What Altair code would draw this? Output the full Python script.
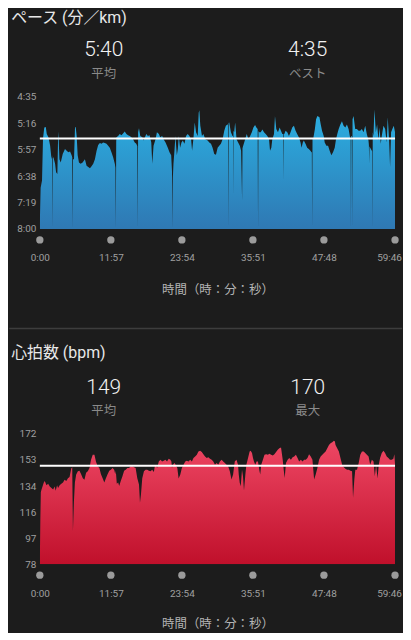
import altair as alt
import pandas as pd

# ---------------- data ----------------
x_ticks = [0, 717, 1434, 2151, 2868, 3586]          # seconds: 0:00 ... 59:46
pace_ticks = [275, 316, 357, 398, 439, 480]         # sec/km: 4:35 ... 8:00
hr_ticks = [78, 96.8, 115.6, 134.4, 153.2, 172]     # bpm

pace_avg = 340   # 5:40
hr_avg = 149

pace_title = "ペース (分／km)"
hr_title = "心拍数 (bpm)"
x_title = "時間（時：分：秒）"
pace_stats = ["5:40", "4:35"]
pace_stat_labels = ["平均", "ベスト"]
hr_stats = ["149", "170"]
hr_stat_labels = ["平均", "最大"]

# (elapsed seconds, pace seconds per km)
pace_samples = [
    (0, 470), (8, 416), (22, 405), (32, 340), (45, 323), (60, 322), (70, 333), (87, 338), (104, 351), (118, 372),
    (124, 366), (127, 480), (131, 370), (137, 369), (154, 379), (164, 392), (177, 395), (184, 340), (187, 329), (190, 340),
    (198, 372), (211, 377), (231, 364), (254, 356), (271, 359), (288, 361), (305, 360), (321, 366), (327, 369), (331, 480),
    (335, 372), (345, 372), (355, 323), (362, 322), (372, 336), (382, 366), (395, 377), (412, 379), (432, 377), (455, 372),
    (472, 382), (489, 384), (506, 386), (522, 383), (539, 379), (556, 372), (573, 359), (589, 350), (606, 347), (623, 348),
    (639, 346), (656, 347), (673, 348), (690, 351), (706, 354), (723, 361), (740, 369), (757, 379), (763, 385), (767, 480),
    (771, 345), (773, 338), (790, 336), (807, 333), (824, 335), (840, 332), (857, 329), (874, 333), (891, 335), (907, 336),
    (924, 338), (941, 341), (958, 346), (974, 348), (984, 352), (988, 480), (992, 330), (1001, 324), (1014, 336), (1035, 338),
    (1048, 343), (1061, 338), (1075, 333), (1091, 336), (1108, 335), (1125, 346), (1135, 379), (1148, 351), (1168, 341), (1182, 330),
    (1202, 333), (1215, 338), (1235, 336), (1249, 341), (1269, 346), (1292, 354), (1309, 361), (1326, 366), (1334, 390), (1336, 413),
    (1339, 480), (1343, 400), (1349, 379), (1359, 359), (1369, 336), (1383, 366), (1393, 356), (1403, 336), (1416, 354), (1430, 346),
    (1443, 343), (1460, 348), (1476, 336), (1493, 333), (1510, 336), (1527, 341), (1537, 359), (1550, 341), (1564, 315), (1577, 330),
    (1594, 336), (1604, 300), (1610, 296), (1620, 320), (1637, 336), (1651, 333), (1671, 341), (1694, 343), (1711, 346), (1728, 348),
    (1744, 354), (1761, 364), (1778, 365),
    (1795, 354), (1811, 351), (1828, 348), (1845, 341), (1862, 328), (1878, 320), (1895, 318), (1899, 318), (1902, 480), (1906, 316),
    (1912, 315), (1929, 330), (1945, 336), (1950, 336), (1952, 426), (1955, 328), (1962, 330), (1972, 315), (1986, 341), (2002, 346),
    (2019, 351), (2032, 359), (2042, 436), (2046, 355), (2053, 351), (2073, 341), (2089, 333), (2106, 341), (2123, 336), (2140, 330),
    (2156, 323), (2173, 319), (2186, 323), (2199, 325), (2203, 480), (2207, 328), (2213, 330), (2230, 330), (2247, 326), (2263, 330),
    (2280, 333), (2297, 336), (2314, 341), (2324, 359), (2337, 354), (2347, 341), (2364, 333), (2374, 305), (2387, 325), (2404, 330),
    (2421, 323), (2434, 328), (2448, 333), (2455, 333), (2458, 405), (2461, 333), (2468, 333), (2481, 328), (2498, 330), (2515, 336),
    (2531, 330), (2548, 323), (2565, 320), (2582, 328), (2598, 333), (2615, 338), (2632, 346), (2642, 354), (2655, 346), (2665, 343),
    (2682, 348), (2699, 354), (2715, 356), (2732, 359), (2742, 361), (2746, 361), (2749, 480), (2753, 340), (2759, 341), (2776, 326),
    (2789, 310), (2802, 305), (2823, 307), (2836, 318), (2849, 328), (2866, 336), (2876, 346), (2893, 351), (2910, 351), (2926, 359),
    (2943, 366), (2960, 361), (2977, 354), (2990, 341), (3003, 333), (3017, 325), (3034, 318), (3050, 313), (3067, 320), (3084, 323),
    (3100, 318), (3117, 325), (3134, 340), (3138, 340), (3141, 480), (3144, 336), (3151, 336), (3154, 480), (3157, 310), (3167, 305),
    (3184, 325), (3201, 325), (3218, 328), (3234, 328), (3251, 325), (3268, 330), (3285, 320), (3301, 333), (3318, 343), (3322, 350),
    (3325, 379), (3328, 352), (3335, 354), (3352, 359), (3355, 360), (3358, 480), (3361, 330), (3368, 336), (3378, 295), (3392, 330),
    (3405, 318), (3419, 343), (3429, 323), (3442, 348), (3452, 336), (3469, 320), (3486, 325), (3502, 346), (3512, 307), (3526, 341),
    (3536, 384), (3546, 330), (3559, 325), (3573, 320), (3586, 330),
]

# (elapsed seconds, heart rate bpm)
hr_samples = [
    (0, 80), (5, 110), (10, 130), (17, 132), (27, 134), (40, 137), (50, 138), (67, 135), (84, 136), (100, 134),
    (117, 133), (134, 132), (150, 134), (160, 131), (174, 135), (184, 133), (200, 135), (217, 136), (234, 137), (250, 139),
    (267, 138), (284, 140), (300, 141), (317, 147), (327, 148), (334, 102), (344, 123), (354, 137), (367, 142.7), (384, 145),
    (400, 145.5), (417, 143), (434, 140), (450, 139), (467, 144), (484, 145), (501, 147.4), (517, 153.4), (534, 157), (551, 157),
    (567, 152), (584, 148.6), (601, 147.4), (617, 143), (634, 140), (651, 137), (667, 140), (684, 143), (701, 145.5), (717, 146.2),
    (734, 147.4), (751, 146.2), (761, 143), (767, 145.5), (777, 136), (791, 137), (801, 134.5), (817, 138), (834, 141.5), (851, 145.5),
    (867, 146.2), (884, 147.4), (901, 147.4), (917, 148.6), (934, 148.6), (951, 147.9), (967, 147.4), (984, 140), (1001, 135.5), (1011, 122.4),
    (1021, 128.3), (1034, 140), (1051, 145), (1068, 146.2), (1084, 146.2), (1101, 145.5), (1118, 145), (1134, 146.2), (1151, 144.6), (1161, 148.6),
    (1174, 149.3), (1184, 147.4), (1201, 152.2), (1218, 153.4), (1234, 152.2), (1251, 152.7), (1268, 153.4), (1284, 152.2), (1301, 154.1), (1318, 153.4),
    (1328, 152.2), (1334, 147.4), (1344, 149.8), (1361, 151), (1374, 149.3), (1388, 147.4), (1401, 139.8), (1418, 142.7), (1434, 147.4), (1451, 149.8),
    (1468, 152.2), (1484, 152.7), (1501, 152.2), (1518, 153.4), (1535, 152.2), (1551, 154.6), (1568, 155.8), (1585, 157), (1601, 159.4), (1618, 159.8),
    (1635, 158.9), (1651, 157.4), (1668, 155.8), (1685, 154.6), (1701, 155.1), (1718, 154.1), (1735, 153.4), (1751, 152.2), (1768, 149.8),
    (1785, 151), (1801, 149.8), (1818, 152.2), (1835, 153.4), (1851, 152.2), (1868, 151), (1885, 149.8), (1901, 148.6), (1918, 145), (1935, 139.1),
    (1951, 142.7), (1968, 152.2), (1985, 153.4), (2001, 149.8), (2008, 143), (2018, 136.7), (2028, 134.3), (2041, 146.2), (2051, 141.5), (2061, 131.2),
    (2075, 142.7), (2085, 149.8), (2102, 154.6), (2118, 159.4), (2128, 159.8), (2142, 158.2), (2152, 154.6), (2162, 152.2), (2175, 149.8), (2188, 152.2),
    (2202, 152.2), (2218, 145), (2225, 142.7), (2235, 149.8), (2252, 153.4), (2268, 157), (2285, 157.4), (2302, 157), (2318, 157.7), (2335, 157),
    (2352, 156.5), (2368, 157.4), (2385, 158.9), (2402, 160.5), (2418, 161.7), (2435, 162.2), (2452, 153.4), (2462, 146.2), (2472, 140.3), (2485, 151),
    (2502, 153.4), (2518, 154.6), (2535, 153.4), (2552, 155.1), (2568, 155.8), (2585, 157), (2602, 154.6), (2618, 152.2), (2635, 153.4), (2652, 152.2),
    (2668, 153.4), (2685, 153.4), (2702, 154.6), (2718, 157.4), (2735, 155.8), (2752, 153.4), (2762, 145), (2769, 139.1), (2785, 142.7), (2802, 147.4),
    (2819, 153.4), (2835, 155.8), (2852, 157), (2869, 158.2), (2885, 159.4), (2902, 161.7), (2919, 164.1), (2935, 165.3), (2952, 166), (2969, 167),
    (2979, 166.5), (2985, 164.1), (3002, 161.7), (3019, 159.4), (3035, 154.6), (3052, 149.8), (3069, 147.9), (3085, 146.9), (3102, 146.2), (3119, 146.2),
    (3135, 145.5), (3152, 145), (3162, 126), (3175, 139.1), (3185, 146.2), (3202, 146.2), (3219, 151), (3235, 157), (3252, 159.4), (3269, 159.4),
    (3285, 158.2), (3302, 157), (3319, 155.8), (3335, 149.8), (3352, 153.4), (3369, 152.2), (3382, 141.5), (3395, 149.8), (3409, 139.8), (3422, 149.8),
    (3435, 154.6), (3452, 158.2), (3469, 159.8), (3485, 158.2), (3502, 155.8), (3519, 154.6), (3535, 153.4), (3552, 153.4), (3569, 154.1), (3579, 157.4),
    (3586, 150),
]

# ---------------- styling ----------------
BG = "#1c1c1c"
FONT = "Roboto, 'Noto Sans CJK JP', sans-serif"
W = 357
LEFT = 30.8          # plot-area left edge in chart coordinates
TOTAL_W = 395
MMSS = "floor(datum.value / 60) + ':' + (datum.value % 60 < 10 ? '0' : '') + (datum.value % 60)"


def panel(samples, domain, reverse, ticks, y_label_expr, avg, title, stats, stat_labels,
          top_col, bot_col, height, bottom_value, separator, title_pad, title_y):
    df = pd.DataFrame(samples, columns=["t", "v"])
    xs = alt.Scale(domain=[0, 3586], nice=False, zero=False)
    ys = alt.Scale(domain=domain, reverse=reverse, nice=False, zero=False)

    x_axis = alt.Axis(values=x_ticks, labelExpr=MMSS, title=x_title, grid=False, domain=False,
                      ticks=False, tickSize=0, labelPadding=24, titlePadding=title_pad,
                      labelColor="#a0a0a0", labelFontSize=10, labelFont=FONT,
                      labelOffset={"condition": {"test": "datum.value >= 3586", "value": -6}, "value": 0},
                      titleColor="#b4b4b4", titleFontSize=12.5, titleFont=FONT,
                      titleFontWeight="normal", labelOverlap=False, labelFlush=False)
    y_axis = alt.Axis(values=ticks, labelExpr=y_label_expr, title=None, grid=False, domain=False,
                      ticks=False, tickSize=0, labelPadding=4, labelColor="#a0a0a0",
                      labelFontSize=10, labelFont=FONT, labelOverlap=False, labelFlush=False)
    X = alt.X("t:Q", scale=xs, axis=x_axis)
    Y = alt.Y("v:Q", scale=ys, axis=y_axis)

    area = alt.Chart(df).mark_area(
        clip=True, interpolate="linear",
        color=alt.Gradient(gradient="linear", x1=0, x2=0, y1=0, y2=1,
                           stops=[alt.GradientStop(color=top_col, offset=0),
                                  alt.GradientStop(color=bot_col, offset=1)]),
    ).encode(x=X, y=Y, y2=alt.datum(bottom_value))

    avg_rule = alt.Chart(pd.DataFrame({"v": [avg]})).mark_rule(
        color="#ffffff", strokeWidth=2
    ).encode(y=Y)

    dots = alt.Chart(pd.DataFrame({"t": x_ticks})).mark_circle(
        size=54, color="#9b9b9b", opacity=1
    ).encode(x=X, y=alt.value(height + 11))

    layers = [area, avg_rule, dots]

    layers.append(alt.Chart(pd.DataFrame({"s": [title]})).mark_text(
        align="left", baseline="middle", fontSize=16, color="#e8e8e8", font=FONT
    ).encode(text="s:N", x=alt.value(-28.8), y=alt.value(title_y)))

    for s, lab, cx in zip(stats, stat_labels, [64.2, 269.2]):
        layers.append(alt.Chart(pd.DataFrame({"s": [s]})).mark_text(
            align="center", baseline="middle", fontSize=21, color="#f2f2f2", font=FONT,
            fontWeight=300
        ).encode(text="s:N", x=alt.value(cx), y=alt.value(-46.5)))
        layers.append(alt.Chart(pd.DataFrame({"s": [lab]})).mark_text(
            align="center", baseline="middle", fontSize=12.5, color="#8a8a8a", font=FONT
        ).encode(text="s:N", x=alt.value(cx), y=alt.value(-23)))

    if separator:
        layers.append(alt.Chart(pd.DataFrame({"s": [0]})).mark_rule(
            color="#3d3d3d", strokeWidth=1.5
        ).encode(x=alt.value(-LEFT), x2=alt.value(TOTAL_W - LEFT), y=alt.value(233)))

    return alt.layer(*layers).properties(width=W, height=height)


pace = panel(pace_samples, [275, 480], True, pace_ticks, MMSS, pace_avg, pace_title,
             pace_stats, pace_stat_labels, "#2bb0e2", "#2f78b3", 133, 480, True, 21, -79.5)
hr = panel(hr_samples, [78, 172], False, hr_ticks, "round(datum.value)", hr_avg, hr_title,
           hr_stats, hr_stat_labels, "#ee4764", "#c0102b", 131, 78, False, 20, -81.5)

chart = alt.vconcat(pace, hr, spacing=206, bounds="flush").properties(
    background=BG,
    padding={"left": 0, "right": 0, "top": -0.5, "bottom": 0},
).configure_view(stroke=None).configure_axis(labelOverlap=False)

chart.save("out.html", embed_options={"renderer": "svg", "actions": False})
